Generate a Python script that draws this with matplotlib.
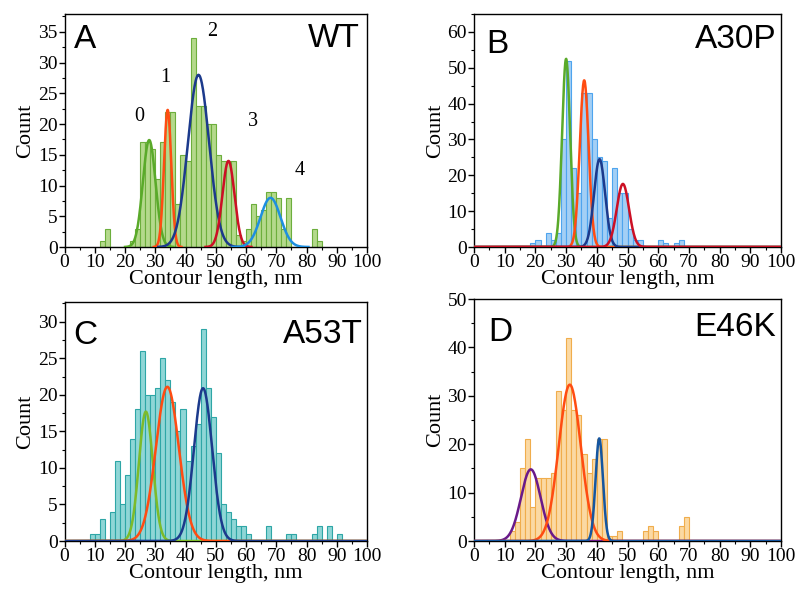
import numpy as np
import matplotlib
matplotlib.use("Agg")
import matplotlib.pyplot as plt
from matplotlib.ticker import MultipleLocator

plt.rcParams['font.family'] = ['Liberation Serif', 'DejaVu Serif']

BIN = 5.0 / 3.0   # histogram bin width, nm

# ---- WT (panel A) ----
wt_first_bin = 7
wt_counts = [1, 3, 0, 0, 0, 0, 1, 3, 17, 17, 16, 11, 17, 22, 22, 7, 15, 14, 34, 23,
             23, 20, 20, 15, 14, 14, 14, 2, 1, 3, 7, 5, 6, 9, 9, 8, 3, 8, 0, 0,
             0, 0, 3, 1]
wt_centers = [28.0, 34.1, 44.3, 54.2, 68.1]
wt_heights = [17.4, 22.3, 28.0, 14.0, 8.0]
wt_sigmas = [2.1, 1.2, 3.5, 2.0, 3.3]
wt_colors = ['#5aaa2a', '#ff4c12', '#1c3a8c', '#cc1025', '#1e8fe0']
wt_peak_labels = ['0', '1', '2', '3', '4']
wt_label_x = [24.6, 33.4, 48.7, 62.4, 77.6]
wt_label_y = [21.2, 27.5, 35.1, 20.4, 12.5]

# ---- A30P (panel B) ----
a30p_first_bin = 11
a30p_counts = [1, 2, 0, 4, 2, 4, 30, 52, 22, 15, 43, 43, 30, 25, 24, 8, 22, 15, 15, 5,
               2, 2, 0, 0, 0, 2, 1, 0, 1, 2]
a30p_centers = [30.0, 35.9, 40.9, 48.5]
a30p_heights = [52.5, 46.5, 24.5, 17.6]
a30p_sigmas = [1.3, 1.45, 1.8, 2.0]
a30p_colors = ['#5aaa2a', '#ff4c12', '#1c3a8c', '#cc1025']

# ---- A53T (panel C) ----
a53t_first_bin = 5
a53t_counts = [1, 1, 3, 0, 4, 11, 5, 9, 14, 18, 26, 20, 20, 21, 25, 22, 19, 15, 18, 11,
               13, 16, 29, 21, 17, 12, 5, 4, 3, 2, 2, 1, 0, 0, 0, 2, 0, 0, 0, 1,
               1, 0, 0, 0, 1, 2, 0, 2, 0, 1]
a53t_centers = [26.9, 34.0, 45.8]
a53t_heights = [17.7, 21.1, 20.9]
a53t_sigmas = [2.3, 3.8, 3.0]
a53t_colors = ['#7dbb2a', '#ff4c12', '#1c3a8c']

# ---- E46K (panel D) ----
e46k_first_bin = 7
e46k_counts = [2, 4, 15, 21, 7, 13, 13, 13, 14, 31, 27, 42, 27, 26, 18, 14, 17, 21, 21, 1,
               1, 2, 0, 0, 0, 0, 2, 3, 2, 0, 0, 0, 0, 3, 5]
e46k_centers = [18.5, 31.2, 40.8]
e46k_heights = [14.8, 32.3, 21.2]
e46k_sigmas = [3.2, 3.6, 1.2]
e46k_colors = ['#6a1a8a', '#ff4c12', '#1556a0']

W, H = 801, 589
fig = plt.figure(figsize=(W / 100, H / 100), dpi=100)


def px_axes(left, top, right, bottom):
    return fig.add_axes([left / W, 1 - bottom / H, (right - left) / W, (bottom - top) / H])


def panel(ax, first_bin, counts, fill, edge, centers, heights, sigmas, colors,
          ymax, ymajor, yminor, letter, name, letter_pos, name_pos, full_range=True):
    counts = np.array(counts)
    edges = (first_bin + np.arange(len(counts))) * BIN
    ax.bar(edges, counts, width=BIN, align='edge', color=fill, edgecolor=edge,
           linewidth=0.8, zorder=2)
    for c, h, s, col in zip(centers, heights, sigmas, colors):
        if full_range:
            x = np.linspace(0, 100, 1000)
        else:
            x = np.linspace(c - 3.8 * s, c + 3.8 * s, 300)
        ax.plot(x, h * np.exp(-0.5 * ((x - c) / s) ** 2), color=col, lw=1.8, zorder=3)
    ax.set_xlim(0, 100)
    ax.set_ylim(0, ymax)
    ax.xaxis.set_major_locator(MultipleLocator(10))
    ax.xaxis.set_minor_locator(MultipleLocator(5))
    ax.yaxis.set_major_locator(MultipleLocator(ymajor))
    ax.yaxis.set_minor_locator(MultipleLocator(yminor))
    ax.tick_params(which='major', direction='out', length=4, width=1, labelsize=14, pad=1)
    ax.tick_params(which='minor', direction='out', length=2.5, width=0.8)
    for sp in ax.spines.values():
        sp.set_linewidth(1.0)
        sp.set_color('black')
    ax.set_xlabel('Contour length, nm', fontsize=16, labelpad=-1)
    ax.set_ylabel('Count', fontsize=16, labelpad=2)
    ax.text(letter_pos[0], letter_pos[1], letter, transform=ax.transAxes,
            family='Liberation Sans', fontsize=24, ha='left', va='top')
    ax.text(name_pos[0], name_pos[1], name, transform=ax.transAxes,
            family='Liberation Sans', fontsize=24, ha='right', va='top')


axA = px_axes(64.5, 14, 367, 247)
panel(axA, wt_first_bin, wt_counts, '#b4d98c', '#6cae3c', wt_centers, wt_heights,
      wt_sigmas, wt_colors, 37.9, 5, 2.5, 'A', 'WT', (0.03, 0.955), (0.975, 0.96),
      full_range=False)
for t, x, y in zip(wt_peak_labels, wt_label_x, wt_label_y):
    axA.text(x, y, t, fontsize=14.5, ha='center', va='center')

axB = px_axes(474, 14, 781, 247)
panel(axB, a30p_first_bin, a30p_counts, '#a3cff5', '#4ea4ee', a30p_centers, a30p_heights,
      a30p_sigmas, a30p_colors, 65, 10, 5, 'B', 'A30P', (0.04, 0.935), (0.985, 0.955))

axC = px_axes(64.5, 302, 367, 541)
panel(axC, a53t_first_bin, a53t_counts, '#8fd6d6', '#2ea6a6', a53t_centers, a53t_heights,
      a53t_sigmas, a53t_colors, 32.7, 5, 2.5, 'C', 'A53T', (0.03, 0.925), (0.985, 0.93))

axD = px_axes(474, 299, 781, 541)
panel(axD, e46k_first_bin, e46k_counts, '#fbd9a3', '#f0ad4c', e46k_centers, e46k_heights,
      e46k_sigmas, e46k_colors, 50, 10, 5, 'D', 'E46K', (0.045, 0.925), (0.985, 0.945))

fig.savefig('out.png', dpi=100)
